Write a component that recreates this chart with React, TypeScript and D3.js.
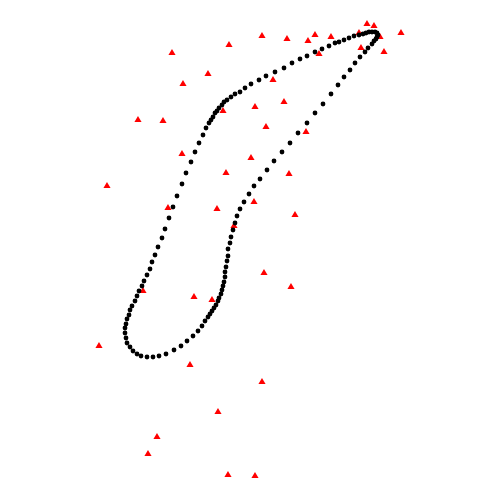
import { useEffect, useRef } from 'react';
import * as d3 from 'd3';

// closed loop, in drawing order (black dots)
const loopX = [
  125, 122, 119, 116, 113, 109, 104, 99, 94, 89, 85, 79, 72, 65, 57, 50, 42, 34, 25, 16, 9, 1,
  -5, -10, -15, -19, -23, -26, -28, -31, -33, -35, -37, -39, -41, -44, -47, -51, -55, -59, -64,
  -68, -73, -77, -81, -85, -88, -92, -95, -98, -100, -103, -106, -108, -111, -113, -115, -118,
  -120, -121, -123, -124, -125, -125, -124, -123, -120, -117, -113, -109, -103, -97, -91, -84,
  -76, -69, -63, -57, -52, -48, -45, -42, -40, -38, -36, -34, -32, -31, -29, -28, -27, -26, -25,
  -25, -24, -23, -22, -22, -20, -19, -17, -15, -13, -10, -6, -1, 4, 10, 17, 24, 32, 40, 48, 57,
  65, 73, 81, 88, 94, 100, 105, 110, 115, 118, 122, 124, 126, 127, 128, 127,
];
const loopY = [
  218, 218, 218, 217, 216, 215, 214, 212, 210, 208, 207, 204, 201, 198, 194, 191, 187, 182, 178,
  174, 170, 166, 162, 158, 156, 153, 150, 148, 145, 142, 139, 137, 133, 130, 127, 122, 115, 107,
  98, 88, 77, 66, 54, 43, 32, 21, 12, 3, -5, -12, -19, -25, -31, -36, -41, -46, -51, -56, -60,
  -65, -69, -74, -78, -83, -88, -93, -97, -101, -104, -106, -107, -107, -106, -104, -100, -96,
  -91, -86, -81, -76, -71, -67, -64, -61, -58, -55, -51, -48, -44, -40, -36, -32, -27, -22, -17,
  -11, -6, 1, 7, 13, 20, 27, 34, 41, 48, 56, 64, 71, 80, 89, 98, 107, 117, 127, 137, 146, 156,
  165, 173, 180, 187, 193, 198, 202, 206, 209, 211, 213, 215, 217,
];

// scattered observations (red triangles)
const triX = [
  -78, -21, 12, 37, 58, 65, 81, 117, 124, 151, 130, 111, 134, 69, 109, -42, -67, 23, -112, -87,
  -27, 5, 34, 16, 56, -68, 1, -143, -24, 39, -82, -33, 4, 45, -16, 14, 41, -107, -56, -38, -151,
  -60, 12, -32, -93, -102, -22, 5,
];
const triY = [
  197, 205, 214, 211, 209, 215, 213, 226, 224, 217, 213, 202, 198, 196, 217, 176, 166, 170, 130,
  129, 139, 143, 148, 123, 118, 96, 92, 64, 77, 76, 42, 41, 48, 35, 24, -23, -37, -41, -47, -50,
  -96, -115, -132, -162, -187, -204, -225, -226,
];

export default function App() {
  const svgRef = useRef<SVGSVGElement>(null);

  useEffect(() => {
    if (!svgRef.current) return;
    const width = 500;
    const height = 500;
    const svg = d3.select(svgRef.current);
    svg.selectAll('*').remove();
    svg.attr('width', width).attr('height', height);

    const x = d3.scaleLinear().domain([-250, 250]).range([0, width]);
    const y = d3.scaleLinear().domain([-250, 250]).range([height, 0]);

    const tri = d3.symbol().type(d3.symbolTriangle).size(22);

    svg.append('g')
      .selectAll('path')
      .data(triX.map((v, i) => [v, triY[i]]))
      .join('path')
      .attr('transform', d => `translate(${x(d[0])},${y(d[1])})`)
      .attr('d', tri)
      .attr('fill', '#ff0000');

    svg.append('g')
      .selectAll('circle')
      .data(loopX.map((v, i) => [v, loopY[i]]))
      .join('circle')
      .attr('cx', d => x(d[0]))
      .attr('cy', d => y(d[1]))
      .attr('r', 2.4)
      .attr('fill', '#000');
  }, []);

  return (
    <div style={{ position: 'fixed', left: 0, top: 0, width: 500, height: 500, background: '#fff' }}>
      <svg ref={svgRef} style={{ display: 'block' }} />
    </div>
  );
}
